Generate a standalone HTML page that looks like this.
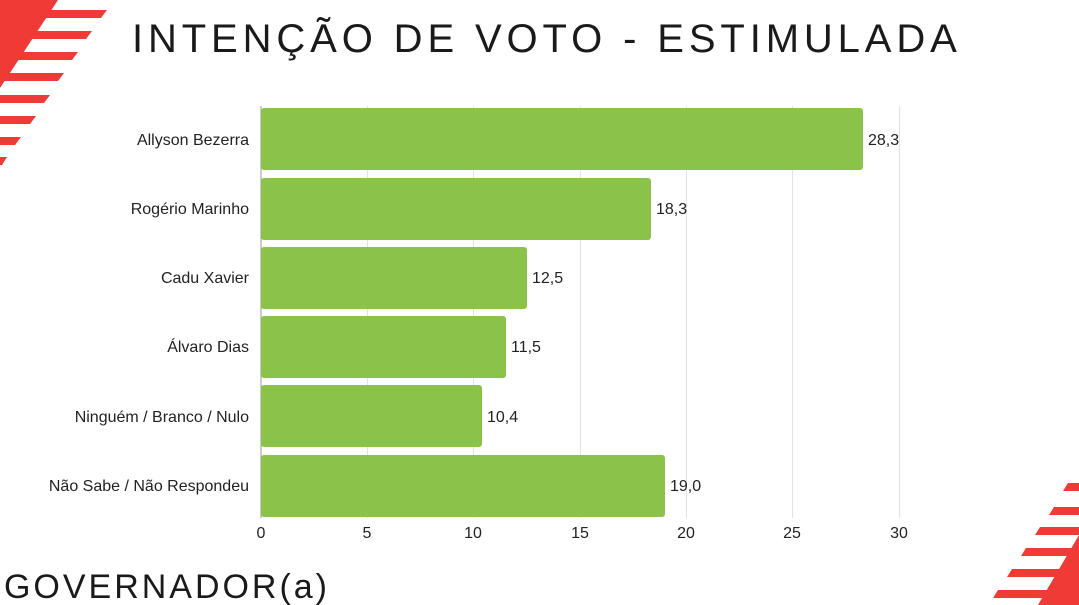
<!DOCTYPE html>
<html><head><meta charset="utf-8"><style>
body{margin:0;width:1079px;height:605px;background:#fff;overflow:hidden;position:relative;font-family:"Liberation Sans",sans-serif}
svg{position:absolute;left:0;top:0}
</style></head><body>
<svg width="1079" height="605" xmlns="http://www.w3.org/2000/svg">
<g fill="#f03a35">
<polygon points="0,0 58,0 0,88"/>
<polygon points="0,10 107,10 101,18 0,18"/>
<polygon points="0,31 92,31 86,39 0,39"/>
<polygon points="0,52 78,52 72,60 0,60"/>
<polygon points="0,73 64,73 58,81 0,81"/>
<polygon points="0,95 50,95 44,103 0,103"/>
<polygon points="0,116 36,116 30,124 0,124"/>
<polygon points="0,137 21,137 15,145 0,145"/>
<polygon points="0,157 7,157 2,165 0,165"/>
<polygon points="1079,535 1079,605 1038,605"/>
<polygon points="1068,483 1079,483 1079,491 1063,491"/>
<polygon points="1054,507 1079,507 1079,515 1049,515"/>
<polygon points="1040,527 1079,527 1079,535 1035,535"/>
<polygon points="1026,548 1079,548 1079,556 1021,556"/>
<polygon points="1012,569 1079,569 1079,577 1007,577"/>
<polygon points="998,590 1079,590 1079,598 993,598"/>
</g>
<g stroke="#e2e2e2" stroke-width="1">
<line x1="367.5" y1="106" x2="367.5" y2="518"/>
<line x1="473.5" y1="106" x2="473.5" y2="518"/>
<line x1="580.5" y1="106" x2="580.5" y2="518"/>
<line x1="686.5" y1="106" x2="686.5" y2="518"/>
<line x1="792.5" y1="106" x2="792.5" y2="518"/>
<line x1="899.5" y1="106" x2="899.5" y2="518"/>
</g>
<line x1="261" y1="106" x2="261" y2="518" stroke="#999"/>
<g fill="#8bc34a">
<rect x="261" y="108" width="602" height="62" rx="3"/>
<rect x="261" y="178" width="390" height="62" rx="3"/>
<rect x="261" y="247" width="266" height="62" rx="3"/>
<rect x="261" y="316" width="245" height="62" rx="3"/>
<rect x="261" y="385" width="221" height="62" rx="3"/>
<rect x="261" y="455" width="404" height="62" rx="3"/>
</g>
<g font-size="16" fill="#222" text-anchor="end">
<text x="249" y="145">Allyson Bezerra</text>
<text x="249" y="214">Rogério Marinho</text>
<text x="249" y="283">Cadu Xavier</text>
<text x="249" y="352">Álvaro Dias</text>
<text x="249" y="422">Ninguém / Branco / Nulo</text>
<text x="249" y="491">Não Sabe / Não Respondeu</text>
</g>
<g font-size="16" fill="#222">
<text x="868" y="145">28,3</text>
<text x="656" y="214">18,3</text>
<text x="532" y="283">12,5</text>
<text x="511" y="352">11,5</text>
<text x="487" y="422">10,4</text>
<text x="670" y="491">19,0</text>
</g>
<g font-size="16" fill="#222" text-anchor="middle">
<text x="261" y="538">0</text><text x="367" y="538">5</text><text x="473" y="538">10</text>
<text x="580" y="538">15</text><text x="686" y="538">20</text><text x="792" y="538">25</text><text x="899" y="538">30</text>
</g>
<text x="132" y="52" font-size="40" letter-spacing="5.2" fill="#1a1a1a" textLength="830">INTENÇÃO DE VOTO - ESTIMULADA</text>
<text x="4" y="598" font-size="34" letter-spacing="3" fill="#1a1a1a" textLength="326">GOVERNADOR(a)</text>
</svg>
</body></html>
